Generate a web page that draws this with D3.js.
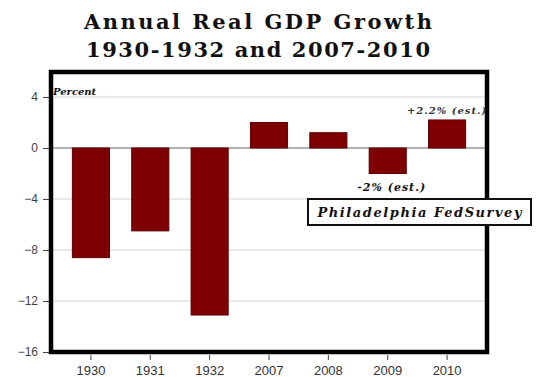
<!DOCTYPE html>
<html>
<head>
<meta charset="utf-8">
<script src="https://cdn.jsdelivr.net/npm/d3@7"></script>
<style>
  body { margin: 0; background: #fff; }
  svg { display: block; }
</style>
</head>
<body>
<svg id="chart" width="538" height="377"></svg>
<script>
var years = ["1930", "1931", "1932", "2007", "2008", "2009", "2010"];
var growth = [-8.6, -6.5, -13.1, 2.0, 1.2, -2.0, 2.2];
var yTicks = [4, 0, -4, -8, -12, -16];

var plotLeft = 51, plotRight = 487, plotTop = 72, plotBottom = 352;

var svg = d3.select("#chart");

var x = d3.scaleBand()
  .domain(years)
  .range([plotLeft, plotRight])
  .paddingInner(0.375)
  .paddingOuter(0.36);

var y = d3.scaleLinear()
  .domain([-16, 4])
  .range([plotBottom, 97]);

// title
svg.append("text")
  .attr("x", 258).attr("y", 29)
  .attr("text-anchor", "middle")
  .attr("textLength", 348)
  .style("font", "bold 21px 'DejaVu Serif', serif")
  .style("fill", "#111")
  .text("Annual Real GDP Growth");

svg.append("text")
  .attr("x", 258).attr("y", 57)
  .attr("text-anchor", "middle")
  .attr("textLength", 344)
  .style("font", "bold 21px 'DejaVu Serif', serif")
  .style("fill", "#111")
  .text("1930-1932 and 2007-2010");

// gridlines
svg.append("g")
  .selectAll("line")
  .data(yTicks.filter(function (d) { return d > -16; }))
  .enter().append("line")
  .attr("x1", plotLeft).attr("x2", plotRight)
  .attr("y1", function (d) { return y(d); })
  .attr("y2", function (d) { return y(d); })
  .style("stroke", function (d) { return d === 0 ? "#999" : "#d4d4d4"; })
  .style("stroke-width", function (d) { return d === 0 ? 1.5 : 1; });

// bars
svg.append("g")
  .selectAll("rect")
  .data(growth)
  .enter().append("rect")
  .attr("x", function (d, i) { return x(years[i]); })
  .attr("width", x.bandwidth())
  .attr("y", function (d) { return y(Math.max(0, d)); })
  .attr("height", function (d) { return Math.abs(y(d) - y(0)); })
  .style("fill", "#7e0000")
  .style("stroke", "#5a0000")
  .style("stroke-width", 1);

// y axis
var yAxis = d3.axisLeft(y)
  .tickValues(yTicks)
  .tickSize(6)
  .tickPadding(5);

svg.append("g")
  .attr("transform", "translate(" + (plotLeft - 2) + ",0)")
  .call(yAxis)
  .call(function (g) { g.select(".domain").remove(); })
  .call(function (g) {
    g.selectAll("text").style("font", "12px 'Liberation Sans', Arial, sans-serif").style("fill", "#444");
    g.selectAll("line").style("stroke", "#444");
  });

// x axis
var xAxis = d3.axisBottom(x)
  .tickSize(5)
  .tickPadding(6);

svg.append("g")
  .attr("transform", "translate(0," + (plotBottom + 3) + ")")
  .call(xAxis)
  .call(function (g) { g.select(".domain").remove(); })
  .call(function (g) {
    g.selectAll("text").style("font", "13px 'Liberation Sans', Arial, sans-serif").style("fill", "#333");
    g.selectAll("line").style("stroke", "#444");
  });

// frame
svg.append("rect")
  .attr("x", plotLeft).attr("y", plotTop)
  .attr("width", plotRight - plotLeft).attr("height", plotBottom - plotTop)
  .style("fill", "none")
  .style("stroke", "#000")
  .style("stroke-width", 4.5);

// labels
var italic = "italic bold 10px 'DejaVu Serif', serif";

svg.append("text")
  .attr("x", plotLeft + 2).attr("y", 95)
  .style("font", italic)
  .style("fill", "#111")
  .text("Percent");

svg.append("text")
  .attr("x", x("2010") + x.bandwidth() / 2).attr("y", y(2.2) - 6)
  .attr("text-anchor", "middle")
  .attr("letter-spacing", "1")
  .style("font", italic)
  .style("fill", "#333")
  .text("+2.2% (est.)");

svg.append("text")
  .attr("x", x("2009") + x.bandwidth() / 2 + 4).attr("y", y(-2) + 17)
  .attr("text-anchor", "middle")
  .attr("letter-spacing", "1")
  .style("font", "italic bold 11px 'DejaVu Serif', serif")
  .style("fill", "#111")
  .text("-2% (est.)");

// source box
svg.append("rect")
  .attr("x", 308).attr("y", 199)
  .attr("width", 223).attr("height", 26)
  .style("fill", "#fff")
  .style("stroke", "#111")
  .style("stroke-width", 2);

svg.append("text")
  .attr("x", 419.5).attr("y", 217)
  .attr("text-anchor", "middle")
  .attr("textLength", 204)
  .style("font", "italic bold 13px 'DejaVu Serif', serif")
  .style("fill", "#111")
  .text("Philadelphia FedSurvey");
</script>
</body>
</html>
